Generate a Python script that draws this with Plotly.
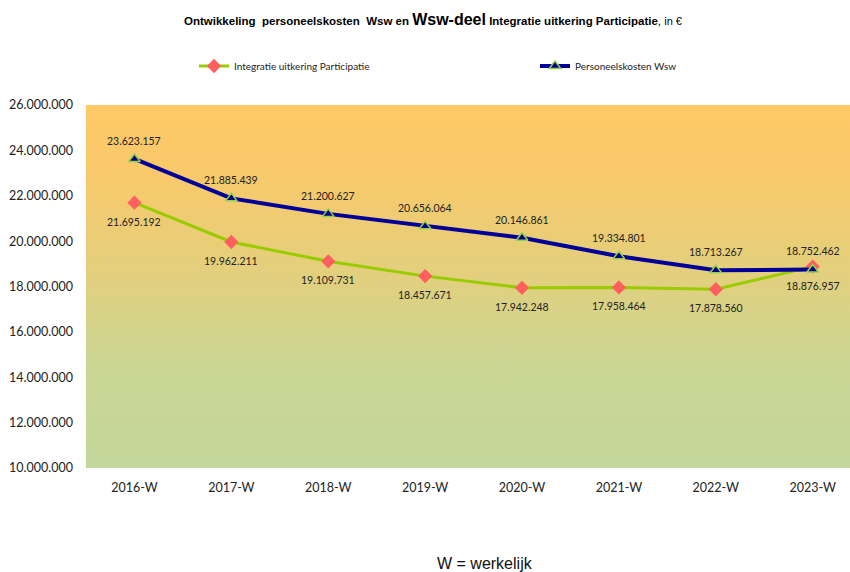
import plotly.graph_objects as go

categories = ["2016-W", "2017-W", "2018-W", "2019-W", "2020-W", "2021-W", "2022-W", "2023-W"]
integratie = [21695192, 19962211, 19109731, 18457671, 17942248, 17958464, 17878560, 18876957]
personeel = [23623157, 21885439, 21200627, 20656064, 20146861, 19334801, 18713267, 18752462]
y_ticks = [10000000, 12000000, 14000000, 16000000, 18000000, 20000000, 22000000, 24000000, 26000000]

def nl(v):
    return f"{v:,}".replace(",", ".")

idx = list(range(len(categories)))
FONT = "Lato"

fig = go.Figure()

# gradient background
fig.add_trace(go.Scatter(
    x=[-0.5, 7.5, 7.5, -0.5, -0.5], y=[10e6, 10e6, 26e6, 26e6, 10e6],
    fill="toself", mode="none", hoverinfo="skip", showlegend=False,
    fillgradient=dict(type="vertical",
                      colorscale=[[0, "#C3D69B"], [0.3, "#CCD693"], [0.55, "#E4CF7C"], [0.8, "#F8C96B"], [1, "#FFC966"]]),
))

fig.add_trace(go.Scatter(
    x=idx, y=integratie, name="Integratie uitkering Participatie", mode="lines+markers",
    line=dict(color="#99CC00", width=3),
    marker=dict(symbol="diamond", size=11, color="#FF5F5F", line=dict(width=0)),
    legend="legend",
))
fig.add_trace(go.Scatter(
    x=idx, y=personeel, name="Personeelskosten Wsw", mode="lines+markers",
    line=dict(color="#000099", width=4),
    marker=dict(symbol="triangle-up", size=10, color="#000080", line=dict(color="#92D050", width=1.5)),
    legend="legend2",
))

for i, v in zip(idx, personeel):
    fig.add_annotation(x=i, y=v, text=nl(v), showarrow=False, yshift=18,
                       font=dict(family=FONT, size=10.5, color="#222222"))
for i, v in zip(idx, integratie):
    fig.add_annotation(x=i, y=v, text=nl(v), showarrow=False, yshift=-19,
                       font=dict(family=FONT, size=10.5, color="#222222"))

fig.add_annotation(
    xref="paper", yref="paper", x=(433 - 86) / 764, y=1 + (105 - 19) / 363, showarrow=False,
    xanchor="center", yanchor="middle",
    text="<b>Ontwikkeling  personeelskosten  Wsw en </b><b><span style='font-size:16px'>Wsw-deel</span></b><b> Integratie uitkering Participatie</b>, <span style='font-size:11px'>in €</span>",
    font=dict(family="Liberation Sans", size=11.5, color="#000000"),
)
fig.add_annotation(
    xref="paper", yref="paper", x=(485 - 86) / 764, y=-(563 - 468) / 363, showarrow=False,
    xanchor="center", yanchor="middle",
    text="W = werkelijk", font=dict(family="Liberation Sans", size=16, color="#111111"),
)

leg_common = dict(orientation="h", xref="container", yref="container", xanchor="left", yanchor="middle",
                  font=dict(family=FONT, size=10, color="#222222"), bgcolor="rgba(0,0,0,0)",
                  itemwidth=30)

fig.update_layout(
    width=850, height=572,
    margin=dict(l=86, r=0, t=105, b=104, autoexpand=False),
    paper_bgcolor="white", plot_bgcolor="white",
    showlegend=True,
    legend=dict(x=194 / 850, y=1 - 66 / 572, **leg_common),
    legend2=dict(x=535 / 850, y=1 - 66 / 572, **leg_common),
    xaxis=dict(range=[-0.5, 7.385], tickmode="array", tickvals=idx, ticktext=categories,
               showgrid=False, zeroline=False, showline=False, ticks="", automargin=False,
               ticklabelstandoff=10,
               tickfont=dict(family=FONT, size=12.5, color="#222222"), fixedrange=True),
    yaxis=dict(range=[10e6, 26e6], tickmode="array", tickvals=y_ticks, ticktext=[nl(v) for v in y_ticks],
               showgrid=True, gridcolor="rgba(225,225,225,0.9)", gridwidth=1, zeroline=False,
               showline=False, ticks="", ticklabelstandoff=12, automargin=False,
               tickfont=dict(family=FONT, size=12.5, color="#222222"), fixedrange=True),
)

fig.write_html("out.html", config={"displayModeBar": False},
               post_script="document.body.style.margin='0';")
